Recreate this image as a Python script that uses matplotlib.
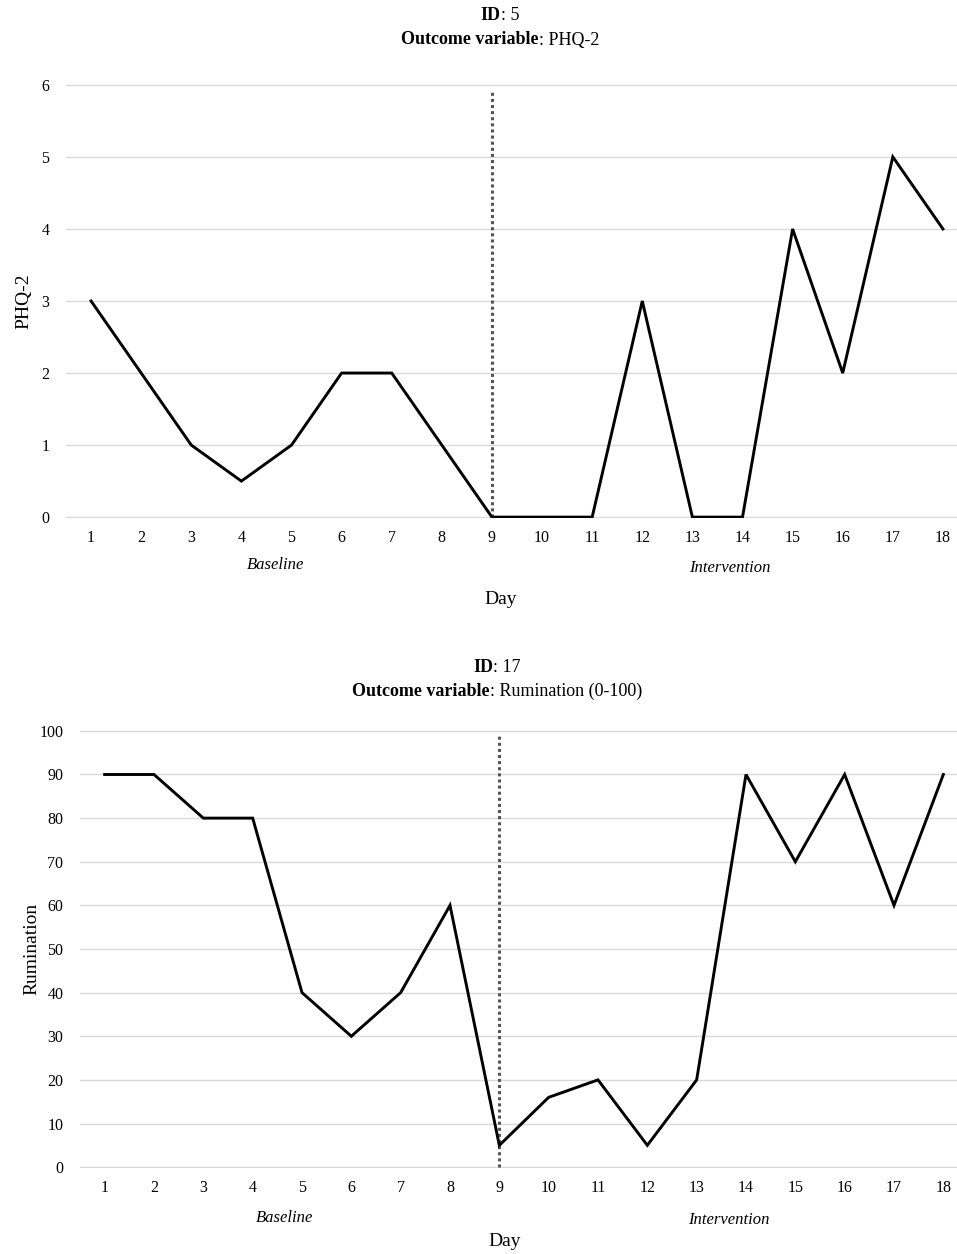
import matplotlib.pyplot as plt

plt.rcParams['font.family'] = ['Liberation Serif', 'DejaVu Serif']

# ---- data ----
days = list(range(1, 19))
phq2_id = "5"
phq2 = [3, 2, 1, 0.5, 1, 2, 2, 1, 0, 0, 0, 3, 0, 0, 4, 2, 5, 4]
rum_id = "17"
rumination = [90, 90, 80, 80, 40, 30, 40, 60, 5, 16, 20, 5, 20, 90, 70, 90, 60, 90]
phase_change = 9

W, H = 957, 1254
fig = plt.figure(figsize=(W / 100, H / 100), dpi=100)


def px_axes(left, right, top, bottom):
    # axes rect from pixel edges
    return fig.add_axes([left / W, 1 - bottom / H, (right - left) / W, (bottom - top) / H])


def mixed_title(bold, normal, cx, cy, size=13):
    # bold label followed by normal text, centred as one line
    t1 = fig.text(0, 0, bold, fontsize=size, fontweight='bold', va='center', ha='left')
    t2 = fig.text(0, 0, normal, fontsize=size, va='center', ha='left')
    fig.canvas.draw()
    r = fig.canvas.get_renderer()
    w1 = t1.get_window_extent(r).width
    w2 = t2.get_window_extent(r).width
    x0 = cx - (w1 + w2) / 2
    t1.set_position((x0 / W, 1 - cy / H))
    t2.set_position(((x0 + w1) / W, 1 - cy / H))


def panel(ax, values, ymax, ystep, ylabel, vline_top):
    ax.plot(days, values, color='black', lw=2.1, solid_joinstyle='miter', zorder=3)
    ax.plot([phase_change, phase_change], [0, vline_top], color='#555555', lw=2.2,
            linestyle=(0, (1, 1)), zorder=2)
    ax.set_xlim(0.5, 18.5)
    ax.set_ylim(-ymax * 0.002, ymax * 1.002)
    ax.set_yticks(range(0, ymax + 1, ystep))
    ax.set_xticks(days)
    ax.grid(axis='y', color='#d9d9d9', lw=1.0)
    ax.set_axisbelow(True)
    for s in ax.spines.values():
        s.set_visible(False)
    ax.tick_params(length=0, labelsize=11.5, pad=9)
    ax.tick_params(axis='y', pad=12)
    ax.set_ylabel(ylabel, fontsize=14)


# ---- top panel ----
ax1 = px_axes(66, 968, 84, 518)
panel(ax1, phq2, 6, 1, 'PHQ-2', 5.92)
ax1.yaxis.set_label_coords((32 - 66) / (968 - 66), 0.5)
fig.text(276 / W, 1 - 565 / H, 'Baseline', fontsize=12, style='italic', ha='center', va='center')
fig.text(730 / W, 1 - 568 / H, 'Intervention', fontsize=12, style='italic', ha='center', va='center')
fig.text(501 / W, 1 - 599 / H, 'Day', fontsize=14, ha='center', va='center')

# ---- bottom panel ----
ax2 = px_axes(80, 968, 730, 1168)
panel(ax2, rumination, 100, 10, 'Rumination', 98.8)
ax2.yaxis.set_label_coords((40 - 80) / (968 - 80), 0.5)
fig.text(285 / W, 1 - 1218 / H, 'Baseline', fontsize=12, style='italic', ha='center', va='center')
fig.text(729 / W, 1 - 1220 / H, 'Intervention', fontsize=12, style='italic', ha='center', va='center')
fig.text(505 / W, 1 - 1241 / H, 'Day', fontsize=14, ha='center', va='center')

# ---- titles ----
mixed_title('ID', ': ' + phq2_id, 500, 15)
mixed_title('Outcome variable', ': PHQ-2', 500, 40)
mixed_title('ID', ': ' + rum_id, 497, 667)
mixed_title('Outcome variable', ': Rumination (0-100)', 497, 691)

fig.savefig('out.png', dpi=100)
